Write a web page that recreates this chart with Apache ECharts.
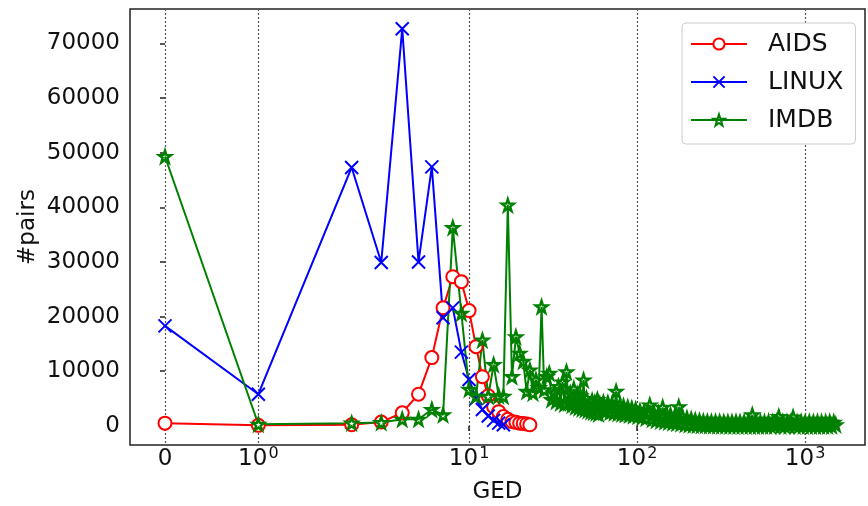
<!DOCTYPE html>
<html>
<head>
<meta charset="utf-8">
<script src="https://cdn.jsdelivr.net/npm/echarts@6/dist/echarts.min.js"></script>
<style>
html, body { margin: 0; padding: 0; background: #fff; }
#main { width: 868px; height: 506px; }
</style>
</head>
<body>
<div id="main"></div>
<script>
// GED distribution (#pairs per GED value) for three datasets
var aidsGed = [0,1,2,3,4,5,6,7,8,9,10,11,12,13,14,15,16,17,18,19,20,21,22,23];
var aidsPairs = [500,100,200,700,2400,5800,12500,21600,27300,26400,21100,14500,9000,5500,3500,2600,1700,1200,800,650,500,450,350,200];

var linuxGed = [0,1,2,3,4,5,6,7,8,9,10,11,12,13,14,15,16];
var linuxPairs = [18300,5800,47300,29900,72700,30000,47400,19800,21600,13500,8500,5000,3000,1800,1000,500,200];

var imdbGed = [0,1,2,3,4,5,6,7,8,9,10,11,12,13,14,15,16,17,18,19,20,21,22,23,24,25,26,27,28,29,30,
  31,32,33,34,35,36,37,38,39,40,41,42,43,44,45,46,47,48,49,50,51,52,53,54,55,56,57,58,59,60,
  62,63,65,67,69,71,73,75,77,79,81,83,85,88,90,93,95,98,101,104,
  107,110,113,116,119,123,126,130,134,138,142,146,150,154,158,163,168,172,177,182,
  187,193,198,204,210,216,222,228,235,241,248,255,262,270,277,285,293,302,310,319,
  328,337,347,357,367,377,388,399,410,422,434,446,459,472,485,499,513,527,542,558,
  573,590,606,624,641,659,678,697,717,737,758,780,802,824,848,872,896,922,948,975,
  1002,1031,1060,1090,1121,1152,1185,1218,1253,1288,1325,1362,1401,1440,1481,1523];
var imdbPairs = [49300,300,500,600,1200,1200,3000,2000,36300,20600,6700,5400,15700,5400,11200,5500,5400,40400,9000,16300,13300,11800,6300,10200,6000,8400,7000,21800,6600,9000,9600,
  4800,6000,4500,7200,4200,8000,4000,9900,4200,6000,3800,6800,3500,5800,3300,5500,3100,8400,3000,5000,2800,3500,2600,4600,2500,4200,2400,4800,2200,4000,
  2800,4300,2600,4200,2500,4000,2400,6300,2300,3800,2200,3600,2100,3400,2000,3200,1900,3000,1800,2700,
  1600,2600,1400,2500,3800,1200,2400,1000,2300,900,3400,800,2100,700,2000,600,1900,500,3500,400,
  1600,300,1400,250,1200,200,1000,150,900,100,800,80,750,60,700,50,700,40,700,30,
  650,30,650,20,650,20,700,20,650,10,700,10,650,10,2000,10,650,10,700,10,
  650,10,700,10,650,10,700,1700,10,700,10,650,10,700,1600,10,650,10,700,10,
  650,10,700,10,650,10,700,10,650,10,650,10,700,10,650,200];

var xTickGed = [0, 1, 10, 100, 1000];
var xTickLabels = ['0', '10^0', '10^1', '10^2', '10^3'];
var yTicks = [0, 10000, 20000, 30000, 40000, 50000, 60000, 70000];

// symlog scale, linthresh 2, linscale 1 (in units of decades)
function symlog(x) {
    var adj = 1 / 0.9;
    if (x <= 2) return x / 2 * adj;
    return adj + Math.log10(x / 2);
}

function pts(ged, vals) {
    return ged.map(function (g, i) { return [symlog(g), vals[i]]; });
}

function tickText(v) {
    var best = 0;
    xTickGed.forEach(function (g, i) {
        if (Math.abs(symlog(g) - v) < Math.abs(symlog(xTickGed[best]) - v)) best = i;
    });
    var t = xTickLabels[best].split('^');
    return '{b|' + t[0] + '}' + (t[1] ? '{s|' + t[1] + '}' : '');
}

function starPath() {
    var p = [];
    for (var i = 0; i < 10; i++) {
        var r = i % 2 === 0 ? 10 : 3.9;
        var a = -Math.PI / 2 + i * Math.PI / 5;
        p.push((i ? 'L' : 'M') + (10 + r * Math.cos(a)).toFixed(2) + ',' + (10 + r * Math.sin(a)).toFixed(2));
    }
    return 'path://' + p.join('') + 'Z';
}

var font = 'DejaVu Sans';
var chart = echarts.init(document.getElementById('main'));

var option = {
    animation: false,
    backgroundColor: '#fff',
    textStyle: { fontFamily: font },
    grid: {
        left: 130, right: 3, top: 9, bottom: 61,
        outerBoundsMode: 'none',
        show: true, borderColor: '#222', borderWidth: 1.5
    },
    legend: {
        data: ['AIDS', 'LINUX', 'IMDB'],
        orient: 'vertical',
        left: 682, top: 23,
        padding: [8, 12, 11, 8],
        backgroundColor: '#fff',
        borderColor: '#ccc', borderWidth: 1, borderRadius: 4,
        itemWidth: 56, itemHeight: 14, itemGap: 12,
        textStyle: { fontFamily: font, fontSize: 25, lineHeight: 26, color: '#111', padding: [0, 0, 0, 16] }
    },
    xAxis: {
        type: 'value',
        min: -35 / 168, max: 700 / 168,
        name: 'GED', nameLocation: 'middle', nameGap: 36,
        nameTextStyle: { fontFamily: font, fontSize: 23, color: '#111' },
        axisLine: { show: false },
        axisTick: {
            customValues: xTickGed.map(symlog),
            length: 5, lineStyle: { color: '#222', width: 1.5 }
        },
        axisLabel: {
            customValues: xTickGed.map(symlog),
            margin: 1, color: '#111', fontFamily: font, fontSize: 23,
            formatter: tickText,
            rich: {
                b: { fontFamily: font, fontSize: 23, color: '#111', lineHeight: 25, verticalAlign: 'bottom' },
                s: { fontFamily: font, fontSize: 16, color: '#111', lineHeight: 25, verticalAlign: 'top', padding: [0, 0, 0, 1] }
            }
        },
        splitLine: { show: true, lineStyle: { color: '#555', type: [2, 2], width: 1.2 } }
    },
    yAxis: {
        type: 'value',
        min: -3500, max: 76300,
        name: '#pairs', nameLocation: 'middle', nameGap: 90, nameMoveOverlap: false,
        nameTextStyle: { fontFamily: font, fontSize: 23, color: '#111' },
        axisLine: { show: false },
        axisTick: { customValues: yTicks, length: 5, lineStyle: { color: '#222', width: 1.5 } },
        axisLabel: {
            customValues: yTicks, margin: 10, color: '#111', fontFamily: font, fontSize: 23,
            formatter: function (v) { return String(v); }
        },
        splitLine: { show: false }
    },
    series: [
        {
            name: 'AIDS', type: 'line',
            data: pts(aidsGed, aidsPairs),
            symbol: 'circle', symbolSize: 13,
            itemStyle: { color: '#fff', borderColor: '#ff0000', borderWidth: 2 },
            lineStyle: { color: '#ff0000', width: 2 }
        },
        {
            name: 'LINUX', type: 'line',
            data: pts(linuxGed, linuxPairs),
            symbol: 'path://M0,0L10,10M10,0L0,10', symbolSize: 13,
            itemStyle: { color: '#0000ff', borderColor: '#0000ff', borderWidth: 2 },
            lineStyle: { color: '#0000ff', width: 2 }
        },
        {
            name: 'IMDB', type: 'line',
            data: pts(imdbGed, imdbPairs),
            showAllSymbol: true,
            symbol: starPath(), symbolSize: 12,
            itemStyle: { color: 'rgba(255,255,255,0)', borderColor: '#008000', borderWidth: 2.4 },
            lineStyle: { color: '#008000', width: 2 }
        }
    ]
};

chart.setOption(option);
</script>
</body>
</html>
